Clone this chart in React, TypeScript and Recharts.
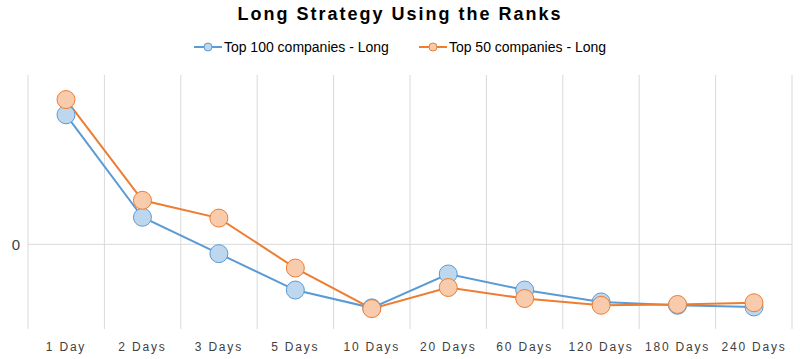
import { LineChart, Line, XAxis, YAxis, CartesianGrid, ReferenceLine } from "recharts"

const periods = ["1 Day", "2 Days", "3 Days", "5 Days", "10 Days", "20 Days", "60 Days", "120 Days", "180 Days", "240 Days"]
const top100 = [1.53, 0.32, -0.11, -0.54, -0.75, -0.35, -0.54, -0.68, -0.72, -0.74]
const top50 = [1.71, 0.52, 0.31, -0.28, -0.76, -0.51, -0.64, -0.72, -0.71, -0.69]
const yTicks = [0]

const data = periods.map((p, i) => ({ period: p, top100: top100[i], top50: top50[i] }))

const BLUE = "#5B9BD5"
const ORANGE = "#ED7D31"
const FONT = "'Liberation Sans', Arial, sans-serif"

function LegendItem({ color, fill, label }: { color: string; fill: string; label: string }) {
  return (
    <span style={{ display: "inline-flex", alignItems: "center", marginRight: 30 }}>
      <svg width={28} height={12} style={{ marginRight: 2 }}>
        <line x1={0} y1={6} x2={28} y2={6} stroke={color} strokeWidth={2} />
        <circle cx={14} cy={6} r={4} fill={fill} stroke={color} strokeWidth={1} />
      </svg>
      {label}
    </span>
  )
}

const XTick = (props: any) => {
  const { x, y, payload } = props
  return (
    <text x={x} y={y + 14} textAnchor="middle" fill="#404040" fontSize={12} letterSpacing={1.8} fontFamily={FONT}>
      {payload.value}
    </text>
  )
}

export default function App() {
  return (
    <div style={{ position: "absolute", left: 0, top: 0, width: 800, height: 359, background: "#fff", fontFamily: FONT }}>
      <div style={{ position: "absolute", top: 4, width: 800, textAlign: "center", fontSize: 18, fontWeight: "bold", letterSpacing: 2, color: "#000" }}>
        Long Strategy Using the Ranks
      </div>
      <div style={{ position: "absolute", top: 39, width: 800, textAlign: "center", fontSize: 14, color: "#000", paddingLeft: 30, boxSizing: "border-box" }}>
        <LegendItem color={BLUE} fill="#BDD7EE" label="Top 100 companies - Long" />
        <LegendItem color={ORANGE} fill="#F8CBAD" label="Top 50 companies - Long" />
      </div>
      <LineChart width={800} height={359} data={data} margin={{ top: 75, right: 8, bottom: 0, left: 0 }}>
        <CartesianGrid
          stroke="#D9D9D9"
          horizontal={false}
          verticalCoordinatesGenerator={({ offset }: any) =>
            periods.map((_, i) => offset.left + (i * offset.width) / periods.length).concat(offset.left + offset.width)
          }
        />
        <XAxis
          dataKey="period"
          axisLine={false}
          tickLine={false}
          height={30}
          tick={<XTick />}
          interval={0}
          padding={{ left: 38, right: 38 }}
        />
        <YAxis
          domain={[-1, 2]}
          ticks={yTicks}
          width={28}
          axisLine={false}
          tickLine={false}
          tick={{ fill: "#404040", fontSize: 15, fontFamily: FONT }}
        />
        <ReferenceLine y={0} stroke="#D9D9D9" />
        <Line
          dataKey="top100"
          stroke={BLUE}
          strokeWidth={2}
          dot={{ r: 9, fill: "#BDD7EE", stroke: BLUE, strokeWidth: 1 }}
          isAnimationActive={false}
        />
        <Line
          dataKey="top50"
          stroke={ORANGE}
          strokeWidth={2}
          dot={{ r: 9, fill: "#F8CBAD", stroke: ORANGE, strokeWidth: 1 }}
          isAnimationActive={false}
        />
      </LineChart>
    </div>
  )
}
